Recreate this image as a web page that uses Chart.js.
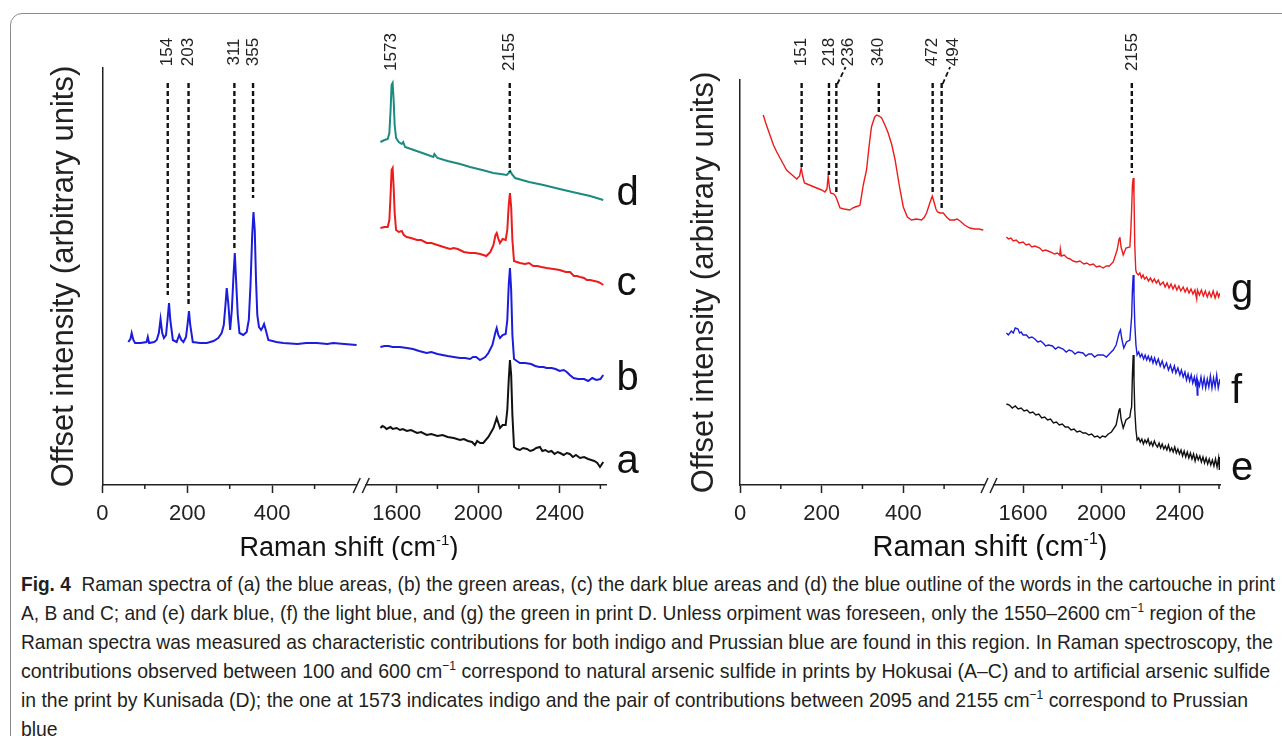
<!DOCTYPE html>
<html lang="en">
<head>
<meta charset="UTF-8">
<title>Fig. 4 Raman spectra</title>
<script src="https://cdn.jsdelivr.net/npm/chart.js"></script>
<style>
  html, body { margin: 0; padding: 0; background: #fff; }
  body { width: 1282px; height: 736px; overflow: hidden; position: relative; font-family: "Liberation Sans", Arial, sans-serif; }
  .frame { position: absolute; left: 10px; top: 13px; width: 1300px; height: 760px; border: 1px solid #8c8c8c; border-radius: 12px; }
  #left { position: absolute; left: 0; top: 0; }
  #right { position: absolute; left: 640px; top: 0; }
  .caption { position: absolute; left: 21px; top: 569px; font-size: 21px; line-height: 29px; color: #231f20; }
  .caption div { white-space: nowrap; width: max-content; transform-origin: 0 0; }
  .caption sup { font-size: 13px; line-height: 0; vertical-align: 8px; }
</style>
</head>
<body>
<div class="frame"></div>
<canvas id="left" width="640" height="560"></canvas>
<canvas id="right" width="642" height="560"></canvas>

<div class="caption">
  <div><b>Fig. 4</b>&nbsp; Raman spectra of (a) the blue areas, (b) the green areas, (c) the dark blue areas and (d) the blue outline of the words in the cartouche in print</div>
  <div>A, B and C; and (e) dark blue, (f) the light blue, and (g) the green in print D. Unless orpiment was foreseen, only the 1550–2600 cm<sup>−1</sup> region of the</div>
  <div>Raman spectra was measured as characteristic contributions for both indigo and Prussian blue are found in this region. In Raman spectroscopy, the</div>
  <div>contributions observed between 100 and 600 cm<sup>−1</sup> correspond to natural arsenic sulfide in prints by Hokusai (A–C) and to artificial arsenic sulfide</div>
  <div>in the print by Kunisada (D); the one at 1573 indicates indigo and the pair of contributions between 2095 and 2155 cm<sup>−1</sup> correspond to Prussian</div>
  <div>blue</div>
</div>

<script>
// ---- data (Raman shift in cm-1, offset intensity in arbitrary units) ----

const tickValues = [0, 100, 200, 300, 400, 500, 1600, 1800, 2000, 2200, 2400, 2600];
const tickLabelled = [0, 200, 400, 1600, 2000, 2400];

// prints A-C
const specA = [[1520,57],[1530,59],[1540,58],[1550,56],[1560,57],[1570,58],[1580,56],[1600,57],[1616,55],[1630,56],[1650,54],[1670,55],[1700,52],[1720,53],[1747,50],[1770,51],[1800,49],[1825,50],[1850,48],[1880,47],[1911,45],[1930,46],[1950,44],[1970,43],[1984,40],[1995,44],[2010,42],[2025,42],[2050,48],[2075,57],[2091,67],[2099,62],[2107,57],[2120,60],[2135,60],[2143,75],[2150,105],[2156,125],[2162,110],[2168,70],[2176,38],[2190,36],[2205,35],[2220,37],[2240,36],[2255,34],[2270,35],[2285,37],[2303,38],[2315,34],[2330,35],[2345,33],[2360,34],[2375,31],[2390,33],[2402,32],[2420,30],[2435,32],[2450,31],[2465,28],[2480,30],[2500,27],[2520,28],[2540,26],[2555,25],[2570,24],[2585,22],[2598,18],[2614,23]];
const specBLow = [[61,143],[66,146],[69,152],[73,145],[77,142],[90,142],[104,143],[107,148],[110,142],[122,143],[128,145],[133,152],[137,166],[141,152],[145,147],[150,150],[154,168],[157,182],[160,165],[166,145],[175,143],[181,150],[186,145],[191,143],[197,148],[201,162],[204,174],[207,160],[213,143],[230,142],[246,142],[262,144],[273,147],[281,152],[286,160],[290,180],[293,197],[297,180],[301,155],[305,175],[309,210],[312,232],[315,205],[319,170],[323,152],[332,150],[340,153],[345,165],[349,200],[353,250],[356,273],[359,255],[362,205],[365,170],[369,158],[374,155],[378,158],[381,161],[385,155],[391,145],[410,143],[426,142],[460,141],[480,142],[505,142],[530,141],[544,142],[570,141],[599,140]];
const specBHigh = [[1520,138],[1540,139],[1560,139],[1580,138],[1616,138],[1650,137],[1680,136],[1710,134],[1747,132],[1770,133],[1800,131],[1825,130],[1850,129],[1880,128],[1911,127],[1935,127],[1960,126],[1975,128],[1990,128],[2009,125],[2035,128],[2050,132],[2070,140],[2085,153],[2091,157],[2099,150],[2107,147],[2120,150],[2135,151],[2143,165],[2150,200],[2156,217],[2162,195],[2168,150],[2176,126],[2190,124],[2205,122],[2230,122],[2260,121],[2280,119],[2300,118],[2320,118],[2336,117],[2360,117],[2380,116],[2400,114],[2420,115],[2435,113],[2450,110],[2468,107],[2490,106],[2520,106],[2540,104],[2560,107],[2580,105],[2600,106],[2614,110]];
const specC = [[1520,257],[1540,258],[1556,258],[1564,265],[1570,290],[1575,315],[1580,317],[1585,298],[1590,272],[1597,255],[1610,253],[1625,254],[1635,250],[1649,248],[1670,247],[1700,245],[1720,245],[1747,242],[1770,242],[1800,240],[1830,238],[1862,236],[1880,237],[1900,236],[1930,233],[1960,232],[1985,232],[2010,231],[2040,229],[2060,233],[2075,240],[2085,250],[2091,252],[2098,247],[2107,242],[2120,246],[2135,245],[2143,255],[2150,280],[2156,292],[2162,278],[2168,245],[2176,224],[2190,223],[2205,222],[2230,221],[2250,222],[2270,219],[2290,219],[2310,218],[2336,217],[2370,216],[2400,215],[2430,213],[2451,213],[2470,209],[2485,209],[2500,208],[2520,207],[2533,205],[2550,205],[2570,204],[2590,203],[2600,202],[2614,200]];
const specD = [[1520,343],[1540,345],[1556,346],[1564,352],[1570,375],[1575,400],[1580,402],[1585,385],[1590,360],[1597,347],[1610,343],[1625,341],[1632,343],[1641,338],[1670,336],[1698,334],[1740,331],[1780,328],[1785,331],[1800,327],[1850,324],[1911,321],[1960,318],[2020,315],[2074,312],[2110,311],[2140,310],[2150,312],[2157,314],[2165,311],[2181,307],[2250,303],[2320,300],[2400,296],[2484,292],[2550,289],[2614,285]];

// print D
const specE = [[1515,81],[1530,80],[1545,77],[1560,79],[1575,76],[1590,77],[1605,74],[1620,75],[1635,72],[1650,73],[1665,70],[1680,71],[1695,67],[1710,68],[1725,65],[1740,66],[1755,62],[1770,63],[1785,60],[1800,61],[1815,58],[1830,58],[1845,55],[1860,56],[1875,53],[1890,54],[1905,52],[1920,52],[1935,50],[1950,51],[1965,48],[1980,49],[1992,47],[2005,49],[2020,48],[2035,51],[2051,53],[2075,60],[2090,75],[2094,77],[2100,66],[2111,57],[2125,65],[2145,68],[2150,75],[2154,78],[2158,110],[2162,130],[2166,105],[2170,75],[2176,55],[2182,45],[2190,47],[2198,43],[2206,46],[2214,41],[2222,45],[2230,42],[2238,46],[2246,40],[2254,43],[2262,39],[2270,44],[2278,40],[2286,38],[2294,42],[2302,37],[2310,41],[2318,36],[2326,39],[2334,35],[2342,40],[2350,34],[2358,37],[2366,33],[2374,38],[2382,32],[2390,36],[2398,31],[2406,35],[2414,29],[2422,34],[2430,28],[2438,33],[2446,27],[2454,32],[2462,26],[2470,31],[2478,24],[2486,30],[2494,25],[2502,29],[2510,23],[2518,28],[2526,22],[2534,27],[2542,21],[2550,26],[2558,20],[2566,25],[2574,19],[2582,26],[2590,18],[2598,27],[2602,15],[2605,28]];
const specF = [[1515,152],[1525,150],[1540,154],[1550,152],[1560,157],[1574,156],[1582,152],[1590,153],[1600,150],[1617,150],[1630,147],[1645,148],[1660,146],[1675,143],[1690,144],[1702,142],[1715,139],[1730,140],[1750,139],[1765,136],[1780,138],[1804,136],[1820,133],[1835,135],[1850,134],[1865,131],[1880,133],[1906,132],[1920,129],[1935,131],[1950,131],[1965,128],[1980,130],[2009,130],[2025,128],[2040,131],[2060,135],[2075,140],[2090,152],[2097,155],[2104,146],[2114,137],[2128,143],[2145,145],[2150,158],[2154,168],[2158,195],[2162,210],[2166,190],[2170,162],[2176,140],[2182,130],[2190,133],[2198,128],[2206,131],[2215,126],[2223,130],[2231,125],[2239,129],[2247,124],[2255,128],[2263,122],[2271,127],[2280,121],[2290,126],[2300,119],[2310,124],[2320,117],[2332,122],[2342,115],[2352,120],[2362,113],[2372,119],[2380,112],[2390,117],[2400,110],[2408,115],[2417,108],[2426,113],[2434,105],[2442,111],[2450,104],[2458,110],[2466,102],[2474,108],[2480,101],[2486,107],[2489,90],[2492,104],[2500,99],[2508,108],[2516,98],[2524,107],[2532,97],[2540,106],[2548,98],[2556,109],[2564,97],[2572,107],[2580,98],[2588,110],[2596,97],[2605,106]];
const specGLow = [[57,370],[63,362],[69,355],[75,348],[82,340],[90,333],[98,327],[106,321],[114,315],[125,311],[139,306],[146,309],[150,317],[154,308],[158,302],[170,300],[188,297],[200,295],[208,293],[213,296],[216,309],[219,298],[222,292],[230,291],[234,289],[238,285],[245,277],[255,276],[269,275],[276,277],[282,278],[290,279],[294,280],[302,300],[310,315],[316,338],[322,358],[330,368],[335,370],[341,369],[347,367],[355,360],[363,352],[372,340],[380,325],[390,300],[400,278],[410,268],[420,265],[432,266],[445,265],[452,268],[457,272],[465,282],[471,289],[476,282],[480,276],[484,273],[490,272],[498,272],[506,268],[514,265],[525,265],[532,266],[539,264],[550,260],[563,257],[575,256],[585,256],[596,255]];
const specGHigh = [[1515,248],[1525,246],[1538,247],[1550,244],[1565,245],[1580,242],[1600,243],[1615,240],[1630,241],[1645,238],[1660,239],[1685,237],[1700,234],[1715,235],[1740,233],[1760,231],[1775,232],[1787,230],[1790,236],[1795,229],[1810,230],[1825,227],[1840,226],[1855,224],[1873,223],[1890,224],[1910,221],[1925,222],[1941,220],[1958,221],[1975,218],[1990,219],[2009,217],[2025,219],[2040,219],[2060,223],[2080,235],[2090,246],[2094,248],[2100,238],[2111,230],[2125,237],[2145,238],[2150,255],[2154,275],[2158,300],[2162,307],[2166,290],[2170,240],[2175,215],[2179,212],[2188,210],[2196,212],[2204,207],[2212,210],[2220,206],[2230,208],[2240,204],[2250,207],[2260,203],[2270,206],[2280,202],[2290,205],[2300,200],[2315,203],[2325,198],[2335,202],[2345,197],[2355,201],[2365,196],[2375,200],[2385,195],[2395,199],[2405,194],[2417,198],[2427,193],[2437,197],[2447,192],[2457,196],[2467,191],[2477,195],[2486,186],[2490,195],[2500,190],[2510,195],[2520,189],[2530,194],[2540,188],[2550,193],[2560,188],[2570,194],[2580,187],[2590,193],[2598,188],[2605,192]];

// marked bands: position, where the number sits, dashed line from/to
const peaksLeft = [154, 203, 311, 355, 1573, 2155];
const peaksLeftLabelAt = [154, 203, 311, 355, 1573, 2155];
const peaksLeftTop = [402, 402, 402, 402, null, 402];
const peaksLeftBottom = [190, 178, 237, 287, null, 313];

const peaksRight = [151, 218, 236, 340, 472, 494, 2155];
const peaksRightLabelAt = [151, 218, 266, 340, 472, 522, 2155];
const peaksRightTop = [402, 402, 402, 402, 402, 402, 402];
const peaksRightBottom = [318, 310, 290, 372, 290, 275, 312];

const lettersLeft = ['d', 'c', 'b', 'a'];
const lettersLeftY = [280, 190, 95, 12];
const lettersRight = ['g', 'f', 'e'];
const lettersRightY = [183, 82, 5];

// ---- broken x axis: 0-620 at full scale, 1500-2650 squeezed after the break ----
const BREAK_X = 610;
function brk(v) { return v <= 1000 ? v : 693.5 + (v - 1600) * 0.48; }

const FONT = '"Liberation Sans", Arial, Helvetica, sans-serif';
Chart.defaults.font.family = FONT;
Chart.defaults.color = '#222';

const decor = {
  id: 'decor',
  afterDraw(chart, args, o) {
    const { ctx, chartArea: ca, scales: { x, y } } = chart;
    ctx.save();

    // short unlabelled ticks
    ctx.strokeStyle = '#222';
    ctx.lineWidth = 1.5;
    tickValues.forEach(v => {
      if (tickLabelled.includes(v)) return;
      const px = x.getPixelForValue(brk(v));
      ctx.beginPath(); ctx.moveTo(px, ca.bottom); ctx.lineTo(px, ca.bottom + 4); ctx.stroke();
    });

    // axis break //
    const bx = x.getPixelForValue(BREAK_X);
    ctx.fillStyle = '#fff';
    ctx.fillRect(bx - 4, ca.bottom - 2, 8, 4);
    ctx.beginPath();
    ctx.moveTo(bx - 8, ca.bottom + 8); ctx.lineTo(bx - 1, ca.bottom - 7);
    ctx.moveTo(bx + 1, ca.bottom + 8); ctx.lineTo(bx + 8, ca.bottom - 7);
    ctx.stroke();

    // dashed band markers + numbers
    ctx.strokeStyle = '#111';
    ctx.lineWidth = 2.4;
    ctx.setLineDash([5, 3]);
    o.peaks.forEach((p, i) => {
      const px = x.getPixelForValue(brk(p));
      const lx = x.getPixelForValue(brk(o.labelAt[i]));
      if (o.top[i] != null) {
        ctx.beginPath();
        ctx.moveTo(px, y.getPixelForValue(o.top[i]));
        ctx.lineTo(px, y.getPixelForValue(o.bottom[i]));
        ctx.stroke();
        if (o.labelAt[i] !== p) {
          ctx.lineWidth = 1.8;
          ctx.beginPath();
          ctx.moveTo(px + 1, y.getPixelForValue(o.top[i]) + 1);
          ctx.lineTo(lx - 3, y.getPixelForValue(o.top[i] + 16));
          ctx.stroke();
          ctx.lineWidth = 2.4;
        }
      }
      ctx.save();
      ctx.translate(lx, y.getPixelForValue(433));
      ctx.rotate(-Math.PI / 2);
      ctx.fillStyle = '#222';
      ctx.font = '17px ' + FONT;
      ctx.textAlign = 'center';
      ctx.textBaseline = 'middle';
      ctx.fillText(String(p), 0, 0);
      ctx.restore();
    });
    ctx.setLineDash([]);

    // curve letters
    ctx.fillStyle = '#111';
    ctx.font = '40px ' + FONT;
    ctx.textAlign = 'left';
    ctx.textBaseline = 'alphabetic';
    o.letters.forEach((t, i) => ctx.fillText(t, ca.right + o.letterDx, y.getPixelForValue(o.lettersY[i])));

    // x title with superscript
    const size = o.titleSize;
    ctx.font = size + 'px ' + FONT;
    const main = 'Raman shift (cm', sup = '-1', end = ')';
    const supFont = Math.round(size * 0.55) + 'px ' + FONT;
    const wMain = ctx.measureText(main).width, wEnd = ctx.measureText(end).width;
    ctx.font = supFont;
    const wSup = ctx.measureText(sup).width;
    let tx = o.titleX - (wMain + wSup + wEnd) / 2;
    ctx.fillStyle = '#111';
    ctx.font = size + 'px ' + FONT;
    ctx.fillText(main, tx, o.titleY);
    ctx.font = supFont;
    ctx.fillText(sup, tx + wMain, o.titleY - size * 0.42);
    ctx.font = size + 'px ' + FONT;
    ctx.fillText(end, tx + wMain + wSup, o.titleY);

    ctx.restore();
  }
};

function makeChart(id, cfg) {
  return new Chart(document.getElementById(id), {
    type: 'line',
    data: {
      datasets: cfg.series.map(s => ({
        data: s.pts.map(p => ({ x: brk(p[0]), y: p[1] })),
        borderColor: s.color,
        borderWidth: cfg.lw,
        pointRadius: 0,
        tension: 0,
        fill: false
      }))
    },
    options: {
      responsive: false,
      animation: false,
      events: [],
      layout: { padding: cfg.pad },
      plugins: { legend: { display: false }, tooltip: { enabled: false }, decor: cfg.decor },
      scales: {
        x: {
          type: 'linear', min: 0, max: brk(cfg.xEnd),
          afterBuildTicks: s => { s.ticks = tickValues.map(v => ({ value: brk(v) })); },
          afterFit: s => { s.height = 75; },
          ticks: {
            autoSkip: false, maxRotation: 0, padding: 8, color: '#222', font: { size: 22 },
            callback: (v, i) => tickLabelled.includes(tickValues[i]) ? String(tickValues[i]) : ''
          },
          grid: {
            drawOnChartArea: false, tickLength: 8, tickWidth: 1.5,
            tickColor: c => tickLabelled.includes(tickValues[c.index]) ? '#222' : 'rgba(0,0,0,0)'
          },
          border: { color: '#222', width: 1.5 }
        },
        y: {
          min: 0, max: cfg.yMax,
          afterFit: s => { s.width = cfg.yWidth; },
          ticks: { display: false },
          grid: { display: false },
          border: { color: '#222', width: 1.5 },
          title: {
            display: true, text: 'Offset intensity (arbitrary units)', color: '#222',
            font: { size: 31 }, padding: { top: 46, bottom: 0 }
          }
        }
      }
    },
    plugins: [decor]
  });
}

makeChart('left', {
  lw: 2,
  pad: { left: 0, right: 33.5, top: 68, bottom: 0 },
  yWidth: 102.4, yMax: 417, xEnd: 2630,
  series: [
    { pts: specA, color: '#111111' },
    { pts: specBLow, color: '#1c1cdc' },
    { pts: specBHigh, color: '#1c1cdc' },
    { pts: specC, color: '#ec1c1c' },
    { pts: specD, color: '#1b8a80' }
  ],
  decor: {
    peaks: peaksLeft, labelAt: peaksLeftLabelAt, top: peaksLeftTop, bottom: peaksLeftBottom,
    letters: lettersLeft, lettersY: lettersLeftY, letterDx: 10,
    titleX: 349, titleY: 556, titleSize: 27
  }
});

makeChart('right', {
  lw: 1.4,
  pad: { left: 0, right: 62, top: 80, bottom: 0 },
  yWidth: 100, yMax: 405, xEnd: 2605,
  series: [
    { pts: specE, color: '#111111' },
    { pts: specF, color: '#1c1cdc' },
    { pts: specGLow, color: '#ec1c1c' },
    { pts: specGHigh, color: '#ec1c1c' }
  ],
  decor: {
    peaks: peaksRight, labelAt: peaksRightLabelAt, top: peaksRightTop, bottom: peaksRightBottom,
    letters: lettersRight, lettersY: lettersRightY, letterDx: 11,
    titleX: 350, titleY: 556, titleSize: 29
  }
});

// caption lines squeezed to the widths of the condensed print face
const captionWidths = [1254, 1235, 1252, 1249, 1227];
const lines = document.querySelectorAll('.caption div');
let lastScale = 1;
lines.forEach((d, i) => {
  const w = d.getBoundingClientRect().width;
  const k = captionWidths[i] ? captionWidths[i] / w : lastScale;
  lastScale = k;
  d.style.transform = 'scaleX(' + k + ')';
});
</script>
</body>
</html>
